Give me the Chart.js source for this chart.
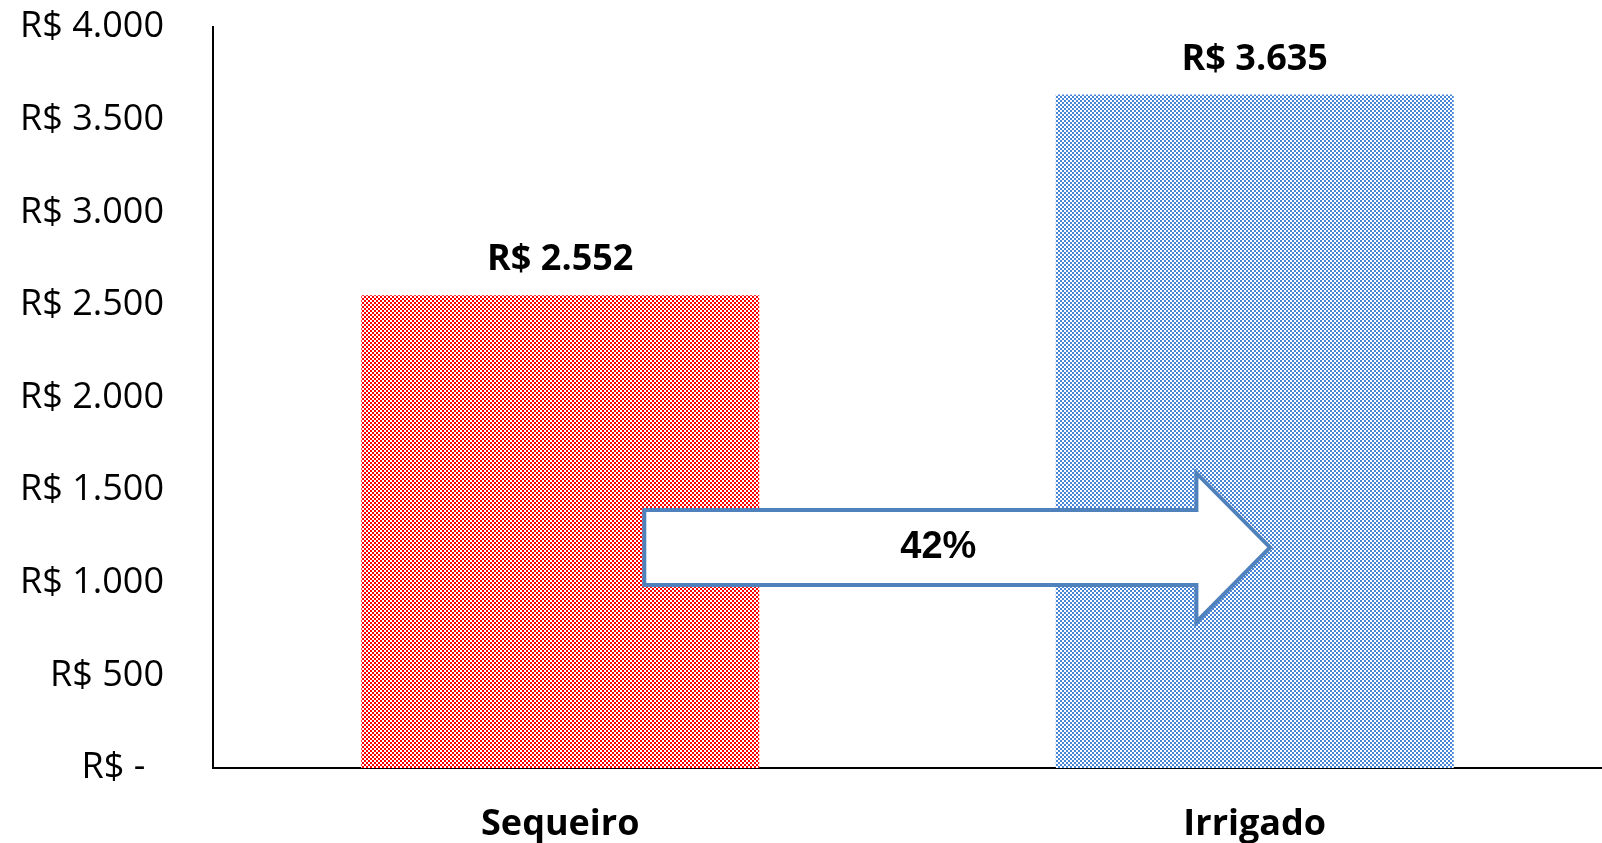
<!DOCTYPE html>
<html>
<head>
<meta charset="utf-8">
<script src="https://cdn.jsdelivr.net/npm/chart.js@4"></script>
<style>
    html, body { margin: 0; padding: 0; background: #fff; }
    #wrap { width: 1602px; height: 843px; position: relative; }
</style>
</head>
<body>
<div id="wrap"><canvas id="grafico"></canvas></div>
<script>
// dados do gráfico
const categorias = ['Sequeiro', 'Irrigado'];
const valores = [2552, 3635];
const coresBarras = ['#FF0000', '#4A86D8'];
const eixoYMin = 0;
const eixoYMax = 4000;
const eixoYPasso = 500;

// formato R$ com ponto de milhar (estilo contábil do Excel)
function formatarReal(v) {
    if (v === 0) return 'R$ -  ';
    return 'R$ ' + v.toLocaleString('pt-BR');
}

// padrão quadriculado (xadrez) para preencher as barras
function criarPadrao(cor) {
    const c = document.createElement('canvas');
    c.width = 4;
    c.height = 4;
    const g = c.getContext('2d');
    g.fillStyle = '#ffffff';
    g.fillRect(0, 0, 4, 4);
    g.fillStyle = cor;
    g.fillRect(0, 0, 2, 2);
    g.fillRect(2, 2, 2, 2);
    return g.createPattern(c, 'repeat');
}

// rótulos de valor acima das barras
const rotulosBarras = {
    id: 'rotulosBarras',
    afterDatasetsDraw(chart) {
        const ctx = chart.ctx;
        const meta = chart.getDatasetMeta(0);
        ctx.save();
        ctx.font = 'bold 36px "Open Sans"';
        ctx.fillStyle = '#000';
        ctx.textAlign = 'center';
        ctx.textBaseline = 'middle';
        meta.data.forEach((bar, i) => {
            ctx.fillText(formatarReal(valores[i]), bar.x, bar.y - 35);
        });
        ctx.restore();
    }
};

// seta com o ganho percentual entre as duas barras
const setaGanho = {
    id: 'setaGanho',
    afterDatasetsDraw(chart) {
        const ctx = chart.ctx;
        const x = chart.scales.x;
        const y = chart.scales.y;
        const x0 = x.getPixelForValue(0);
        const passo = x.getPixelForValue(1) - x0;
        const cauda = x0 + 0.121 * passo;
        const baseCabeca = x0 + 0.916 * passo;
        const ponta = x0 + 1.022 * passo;
        const topoCorpo = y.getPixelForValue(1393);
        const baseCorpo = y.getPixelForValue(988);
        const topoCabeca = y.getPixelForValue(1592);
        const baseCabecaY = y.getPixelForValue(788);
        const meio = (topoCorpo + baseCorpo) / 2;

        ctx.save();
        ctx.beginPath();
        ctx.moveTo(cauda, topoCorpo);
        ctx.lineTo(baseCabeca, topoCorpo);
        ctx.lineTo(baseCabeca, topoCabeca);
        ctx.lineTo(ponta, meio);
        ctx.lineTo(baseCabeca, baseCabecaY);
        ctx.lineTo(baseCabeca, baseCorpo);
        ctx.lineTo(cauda, baseCorpo);
        ctx.closePath();
        ctx.fillStyle = '#ffffff';
        ctx.fill();
        ctx.lineWidth = 4;
        ctx.lineJoin = 'miter';
        ctx.strokeStyle = '#4F81BD';
        ctx.stroke();

        const ganho = Math.round((valores[1] / valores[0] - 1) * 100);
        ctx.font = 'bold 38px "Liberation Sans Narrow", "Liberation Sans", sans-serif';
        ctx.fillStyle = '#000';
        ctx.textAlign = 'center';
        ctx.textBaseline = 'middle';
        ctx.fillText(ganho + '%', cauda + 0.47 * (ponta - cauda), meio);
        ctx.restore();
    }
};

const ctx = document.getElementById('grafico').getContext('2d');
new Chart(ctx, {
    type: 'bar',
    data: {
        labels: categorias,
        datasets: [{
            data: valores,
            backgroundColor: coresBarras.map(criarPadrao),
            borderWidth: 0,
            categoryPercentage: 1,
            barPercentage: 0.573
        }]
    },
    options: {
        responsive: true,
        maintainAspectRatio: false,
        animation: false,
        layout: {
            padding: { top: 27, right: 0, left: 0, bottom: 0 }
        },
        plugins: {
            legend: { display: false },
            tooltip: { enabled: false },
            title: { display: false }
        },
        scales: {
            x: {
                grid: { display: false, drawTicks: false },
                border: { display: true, color: '#000', width: 2 },
                ticks: {
                    color: '#000',
                    padding: 35,
                    font: { family: 'Open Sans', size: 36, weight: 'bold' }
                },
                afterFit(scale) { scale.height = 75; }
            },
            y: {
                min: eixoYMin,
                max: eixoYMax,
                grid: { display: false, drawTicks: false },
                border: { display: true, color: '#000', width: 2 },
                ticks: {
                    stepSize: eixoYPasso,
                    color: '#000',
                    padding: 49,
                    font: { family: 'Open Sans', size: 36 },
                    callback: (v) => formatarReal(v)
                },
                afterFit(scale) {
                    scale.width = 213;
                    scale.paddingTop = 0;
                    scale.paddingBottom = 0;
                }
            }
        }
    },
    plugins: [rotulosBarras, setaGanho]
});
</script>
</body>
</html>
